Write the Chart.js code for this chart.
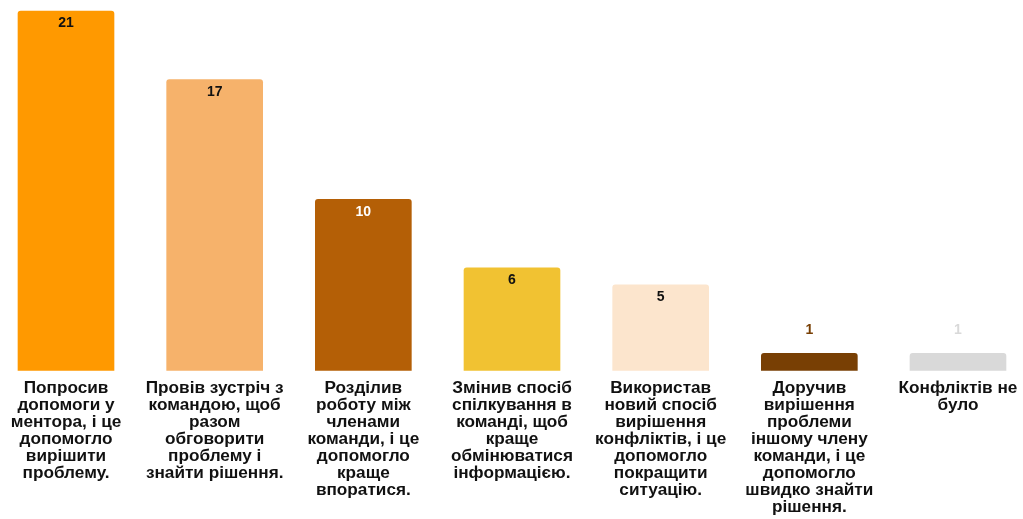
<!DOCTYPE html>
<html>
<head>
<meta charset="utf-8">
<script src="https://cdn.jsdelivr.net/npm/chart.js@4/dist/chart.umd.min.js"></script>
<style>
  html, body { margin: 0; padding: 0; background: #fff; }
  #wrap { width: 1023px; height: 519px; }
</style>
</head>
<body>
<div id="wrap"><canvas id="barChart"></canvas></div>
<script>
// categories, split into the lines they wrap to under each bar
const categories = [
  ['Попросив', 'допомоги у', 'ментора, і це', 'допомогло', 'вирішити', 'проблему.'],
  ['Провів зустріч з', 'командою, щоб', 'разом', 'обговорити', 'проблему і', 'знайти рішення.'],
  ['Розділив', 'роботу між', 'членами', 'команди, і це', 'допомогло', 'краще', 'впоратися.'],
  ['Змінив спосіб', 'спілкування в', 'команді, щоб', 'краще', 'обмінюватися', 'інформацією.'],
  ['Використав', 'новий спосіб', 'вирішення', 'конфліктів, і це', 'допомогло', 'покращити', 'ситуацію.'],
  ['Доручив', 'вирішення', 'проблеми', 'іншому члену', 'команди, і це', 'допомогло', 'швидко знайти', 'рішення.'],
  ['Конфліктів не', 'було']
];
const counts = [21, 17, 10, 6, 5, 1, 1];

const barColors = ['#FF9900', '#F6B26B', '#B45F06', '#F1C232', '#FCE5CD', '#783F04', '#D9D9D9'];
const valueColors = ['#111111', '#111111', '#FFFFFF', '#111111', '#111111', '#783F04', '#D9D9D9'];

const FONT = '"Liberation Sans", Arial, sans-serif';

// draws the count on each bar: inside near the top, or above when the bar is short
const valueLabels = {
  id: 'valueLabels',
  afterDatasetsDraw(chart) {
    const ctx = chart.ctx;
    const meta = chart.getDatasetMeta(0);
    ctx.save();
    ctx.font = 'bold 14px ' + FONT;
    ctx.textAlign = 'center';
    ctx.textBaseline = 'middle';
    meta.data.forEach((bar, i) => {
      const h = bar.base - bar.y;
      const y = h > 30 ? bar.y + 12.5 : bar.y - 23;
      ctx.fillStyle = valueColors[i];
      ctx.fillText(String(counts[i]), bar.x, y);
    });
    ctx.restore();
  }
};

new Chart(document.getElementById('barChart'), {
  type: 'bar',
  data: {
    labels: categories,
    datasets: [{
      data: counts,
      backgroundColor: barColors,
      borderRadius: 3,
      borderSkipped: 'bottom',
      barThickness: 96,
      clip: false
    }]
  },
  options: {
    responsive: true,
    maintainAspectRatio: false,
    animation: false,
    layout: { padding: { left: 66, right: 65, top: 11, bottom: 0 } },
    plugins: {
      legend: { display: false },
      tooltip: { enabled: false }
    },
    scales: {
      x: {
        offset: false,
        grid: { display: false, drawTicks: false },
        border: { display: false },
        // fixed label band; edge labels may hang past the first/last tick
        afterFit(scale) {
          scale.height = 148.5;
          scale.paddingLeft = 0;
          scale.paddingRight = 0;
        },
        ticks: {
          autoSkip: false,
          maxRotation: 0,
          minRotation: 0,
          padding: 9,
          color: '#111111',
          font: { family: FONT, size: 17.2, weight: 'bold', lineHeight: 0.99 }
        }
      },
      y: {
        display: false,
        beginAtZero: true,
        min: 0,
        max: 21
      }
    }
  },
  plugins: [valueLabels]
});
</script>
</body>
</html>
